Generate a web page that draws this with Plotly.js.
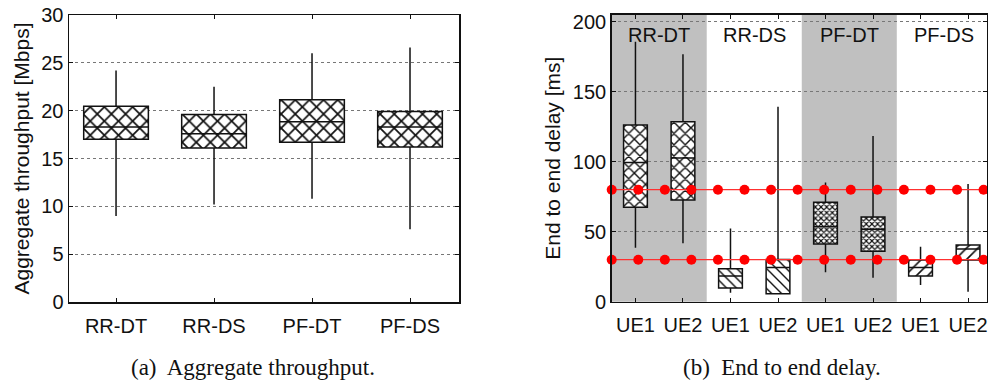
<!DOCTYPE html>
<html>
<head>
<meta charset="utf-8">
<script src="https://cdn.plot.ly/plotly-3.0.1.min.js"></script>
<style>
  html, body { margin: 0; padding: 0; background: #fff; }
  #chart { width: 988px; height: 387px; }
</style>
</head>
<body>
<div id="chart"></div>
<script>
// (a) aggregate throughput per scheduler / link mode [Mbps]
const tputGroups = ['RR-DT', 'RR-DS', 'PF-DT', 'PF-DS'];
const tputLow  = [9.0, 10.2, 10.8, 7.6];
const tputQ1   = [17.0, 16.1, 16.7, 16.2];
const tputMed  = [18.3, 17.6, 18.85, 18.3];
const tputQ3   = [20.45, 19.6, 21.15, 19.9];
const tputHigh = [24.2, 22.5, 26.0, 26.6];

// (b) end to end delay per UE [ms]
const delaySchemes = ['RR-DT', 'RR-DS', 'PF-DT', 'PF-DS'];
const delayTicks = ['UE1', 'UE2', 'UE1', 'UE2', 'UE1', 'UE2', 'UE1', 'UE2'];
const delayLow  = [38.6, 41.7, 6.4, 5.7, 21.0, 17.1, 11.9, 7.1];
const delayQ1   = [67.4, 72.6, 9.8, 5.7, 41.2, 36.0, 18.3, 29.8];
const delayMed  = [99.5, 102.6, 18.3, 24.5, 53.6, 51.7, 24.5, 37.6];
const delayQ3   = [126.2, 128.6, 23.5, 30.2, 71.0, 60.5, 29.8, 40.5];
const delayHigh = [185.7, 176.7, 52.3, 139.3, 85.2, 118.3, 39.3, 84.0];

// delay budgets drawn as red reference lines
const delayBudgets = [80, 30];
const budgetSamples = 15;

const captions = ['(a)\u00a0 Aggregate throughput.', '(b)\u00a0 End to end delay.'];

const SANS = 'Liberation Sans, Arial, sans-serif';
const SERIF = 'Liberation Serif, Times New Roman, serif';
const INK = '#111';

const tputX = tputGroups.map((_, i) => i);
const delayX = delayTicks.map((_, i) => i);

// hatch style per scheme (two UEs per scheme)
const hatchShape = { 'RR-DT': 'x', 'RR-DS': '\\', 'PF-DT': 'x', 'PF-DS': '/' };
const hatchSize = { 'RR-DT': 8, 'RR-DS': 7, 'PF-DT': 4, 'PF-DS': 8 };
const hatchSolid = { 'RR-DT': 0.32, 'RR-DS': 0.2, 'PF-DT': 0.5, 'PF-DS': 0.2 };
const delayScheme = delayX.map(i => delaySchemes[Math.floor(i / 2)]);

const traces = [
  // hatched box fills (q1..q3)
  {
    type: 'bar', xaxis: 'x', yaxis: 'y',
    x: tputX, base: tputQ1, y: tputQ3.map((v, i) => v - tputQ1[i]),
    width: 0.66,
    marker: { color: '#fff', line: { width: 0 },
      pattern: { shape: 'x', size: 10, solidity: 0.32, fgcolor: '#111', bgcolor: '#fff' } },
    hoverinfo: 'skip', showlegend: false
  },
  {
    type: 'box', xaxis: 'x', yaxis: 'y',
    x: tputX, q1: tputQ1, median: tputMed, q3: tputQ3,
    lowerfence: tputLow, upperfence: tputHigh,
    width: 0.66, whiskerwidth: 0, boxpoints: false,
    fillcolor: 'rgba(0,0,0,0)', line: { color: INK, width: 1.5 },
    hoverinfo: 'skip', showlegend: false
  },
  {
    type: 'bar', xaxis: 'x2', yaxis: 'y2',
    x: delayX, base: delayQ1, y: delayQ3.map((v, i) => v - delayQ1[i]),
    width: 0.5,
    marker: { color: '#fff', line: { width: 0 },
      pattern: {
        shape: delayScheme.map(s => hatchShape[s]),
        size: delayScheme.map(s => hatchSize[s]),
        solidity: delayScheme.map(s => hatchSolid[s]),
        fgcolor: '#111', bgcolor: '#fff'
      } },
    hoverinfo: 'skip', showlegend: false
  },
  {
    type: 'box', xaxis: 'x2', yaxis: 'y2',
    x: delayX, q1: delayQ1, median: delayMed, q3: delayQ3,
    lowerfence: delayLow, upperfence: delayHigh,
    width: 0.5, whiskerwidth: 0, boxpoints: false,
    fillcolor: 'rgba(0,0,0,0)', line: { color: INK, width: 1.5 },
    hoverinfo: 'skip', showlegend: false
  }
];

// red budget lines with sample markers, on an overlay axis spanning the panel
const sampleIdx = Array.from({ length: budgetSamples }, (_, k) => k);
delayBudgets.forEach(b => {
  traces.push({
    type: 'scatter', mode: 'lines+markers', xaxis: 'x3', yaxis: 'y2',
    x: sampleIdx, y: sampleIdx.map(() => b),
    line: { color: '#ff3030', width: 1.3 },
    marker: { color: '#ff0000', size: 10 },
    cliponaxis: false, hoverinfo: 'skip', showlegend: false
  });
});

const axisCommon = {
  showline: true, linecolor: INK, linewidth: 1.5, mirror: 'ticks',
  ticks: 'inside', ticklen: 4, tickcolor: INK, tickwidth: 1,
  tickfont: { family: SANS, size: 20, color: INK },
  zeroline: false, fixedrange: true
};

const shapes = [];
// gray shading behind the DT schemes
[0, 2].forEach(g => {
  shapes.push({
    type: 'rect', xref: 'x2', yref: 'y2 domain', layer: 'below',
    x0: g * 2 - 0.5, x1: g * 2 + 1.5, y0: 0, y1: 1,
    fillcolor: '#c0c0c0', line: { width: 0 }
  });
});

const annotations = delaySchemes.map((s, g) => ({
  xref: 'x2', yref: 'y2 domain', x: g * 2 + 0.5, y: 0.93,
  text: s, showarrow: false, xanchor: 'center', yanchor: 'middle',
  font: { family: SANS, size: 20, color: INK }
}));
annotations.push(
  { xref: 'paper', yref: 'paper', x: 253 / 988, y: 1 - 367 / 387, text: captions[0],
    showarrow: false, xanchor: 'center', yanchor: 'middle',
    font: { family: SERIF, size: 23, color: INK } },
  { xref: 'paper', yref: 'paper', x: 782 / 988, y: 1 - 367 / 387, text: captions[1],
    showarrow: false, xanchor: 'center', yanchor: 'middle',
    font: { family: SERIF, size: 23, color: INK } }
);

const layout = {
  width: 988, height: 387,
  margin: { l: 0, r: 0, t: 0, b: 0 },
  paper_bgcolor: '#fff', plot_bgcolor: 'rgba(0,0,0,0)',
  barmode: 'overlay', boxmode: 'overlay',
  showlegend: false,
  xaxis: Object.assign({}, axisCommon, {
    domain: [69 / 988, 459 / 988], range: [-0.48, 3.5],
    tickmode: 'array', tickvals: tputX, ticktext: tputGroups,
    showgrid: false, ticklabelstandoff: 5
  }),
  yaxis: Object.assign({}, axisCommon, {
    domain: [1 - 302 / 387, 1 - 15 / 387], range: [0, 30],
    tickvals: [0, 5, 10, 15, 20, 25, 30],
    showgrid: true, gridcolor: '#777', griddash: 'dot', gridwidth: 1,
    ticklabelstandoff: 0,
    title: { text: 'Aggregate throughput [Mbps]', standoff: 6,
      font: { family: SANS, size: 21, color: INK } }
  }),
  xaxis2: Object.assign({}, axisCommon, {
    domain: [611.7 / 988, 987.3 / 988], range: [-0.5, 7.405],
    tickmode: 'array', tickvals: delayX, ticktext: delayTicks,
    showgrid: false, ticklabelstandoff: 5, anchor: 'y2'
  }),
  yaxis2: Object.assign({}, axisCommon, {
    domain: [1 - 301.7 / 387, 1 - 14.7 / 387], range: [0, 205], anchor: 'x2',
    tickvals: [0, 50, 100, 150, 200],
    showgrid: true, gridcolor: '#777', griddash: 'dot', gridwidth: 1,
    ticklabelstandoff: 0,
    title: { text: 'End to end delay [ms]', standoff: 6,
      font: { family: SANS, size: 21, color: INK } }
  }),
  xaxis3: {
    overlaying: 'x2', anchor: 'y2', domain: [611.7 / 988, 987.3 / 988],
    range: [0, 14.14], visible: false, fixedrange: true
  },
  shapes: shapes,
  annotations: annotations
};

Plotly.newPlot('chart', traces, layout, { staticPlot: true, displayModeBar: false });
</script>
</body>
</html>
